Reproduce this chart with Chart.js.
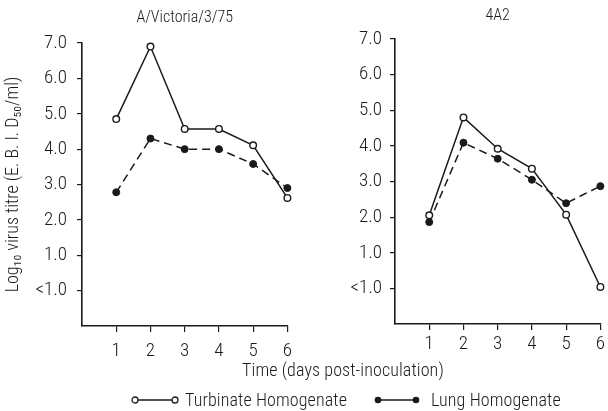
<!DOCTYPE html>
<html>
<head>
<meta charset="utf-8">
<script src="https://cdn.jsdelivr.net/npm/chart.js@4/dist/chart.umd.min.js"></script>
<style>
  html, body { margin: 0; padding: 0; background: #fff; }
  #wrap { position: relative; width: 608px; height: 411px; overflow: hidden; background: #fff;
          font-family: 'Roboto Condensed', 'Liberation Sans', sans-serif; font-weight: 300; color: #1a1a1a; }
  .cv { position: absolute; top: 0; }
  #c1 { left: 0; }
  #c2 { left: 300px; }
  #xtitle { position: absolute; left: 242px; top: 360px; font-size: 18px; line-height: 20px; white-space: nowrap; letter-spacing: 0.1px; }
  .leg { position: absolute; top: 389px; font-size: 18px; line-height: 22px; white-space: nowrap; display: flex; align-items: center; letter-spacing: 0.1px; }
  .leg svg { margin-right: 6px; }
</style>
</head>
<body>
<div id="wrap">
  <div class="cv" id="c1"><canvas id="chart1" width="300" height="362"></canvas></div>
  <div class="cv" id="c2"><canvas id="chart2" width="308" height="362"></canvas></div>
  <div id="xtitle">Time (days post-inoculation)</div>
  <div class="leg" style="left:131px;">
    <svg width="48" height="10"><line x1="4" y1="5" x2="44" y2="5" stroke="#1a1a1a" stroke-width="1.3"/><circle cx="4" cy="5" r="3" fill="#fff" stroke="#1a1a1a" stroke-width="1.3"/><circle cx="44" cy="5" r="3" fill="#fff" stroke="#1a1a1a" stroke-width="1.3"/></svg>
    <span>Turbinate Homogenate</span>
  </div>
  <div class="leg" style="left:374px;">
    <svg width="46" height="10"><line x1="4" y1="5" x2="42" y2="5" stroke="#1a1a1a" stroke-width="1.3"/><circle cx="4" cy="5" r="3.3" fill="#1a1a1a"/><circle cx="42" cy="5" r="3.3" fill="#1a1a1a"/></svg>
    <span style="margin-left:5px">Lung Homogenate</span>
  </div>
</div>
<script>
// ---- data ----
const days = [1, 2, 3, 4, 5, 6];
const panelTitles = ['A/Victoria/3/75', '4A2'];
// values in log10 units; 0 denotes the "<1.0" level
const victoriaTurbinate = [4.85, 6.9, 4.57, 4.57, 4.11, 2.62];
const victoriaLung      = [2.78, 4.3, 4.0, 4.0, 3.58, 2.9];
const a42Turbinate      = [2.05, 4.8, 3.92, 3.36, 2.07, 0.04];
const a42Lung           = [1.86, 4.09, 3.64, 3.05, 2.39, 2.87];
const yTickValues = [0, 1, 2, 3, 4, 5, 6, 7];
const yTickLabels = ['<1.0', '1.0', '2.0', '3.0', '4.0', '5.0', '6.0', '7.0'];
const xTickLabels = ['1', '2', '3', '4', '5', '6'];
const yAxisTitle = 'Log\u2081\u2080 virus titre (E. B. I. D\u2085\u2080/ml)';
const seriesNames = ['Turbinate Homogenate', 'Lung Homogenate'];

const INK = '#1a1a1a';
Chart.defaults.font.family = "'Roboto Condensed', 'Liberation Sans', sans-serif";
Chart.defaults.font.weight = '300';
Chart.defaults.color = INK;

function pts(vals) { return days.map((d, i) => ({ x: d, y: vals[i] })); }

function makeChart(id, title, turb, lung, opts) {
  return new Chart(document.getElementById(id), {
    type: 'line',
    data: {
      datasets: [
        { label: seriesNames[0], data: pts(turb), borderColor: INK, borderWidth: 1.5,
          pointRadius: 3.3, pointBackgroundColor: '#fff', pointBorderColor: INK, pointBorderWidth: 1.4,
          tension: 0, clip: false },
        { label: seriesNames[1], data: pts(lung), borderColor: INK, borderWidth: 1.5, borderDash: [8, 5],
          pointRadius: 3.5, pointBackgroundColor: INK, pointBorderColor: INK, pointBorderWidth: 1,
          tension: 0, clip: false }
      ]
    },
    options: {
      responsive: false,
      animation: false,
      events: [],
      layout: { padding: { left: 0, right: opts.right, top: 0, bottom: 0 } },
      plugins: {
        legend: { display: false },
        tooltip: { enabled: false },
        title: { display: true, text: title, fullSize: false, color: INK,
                 font: { size: 16, weight: '300', lineHeight: 1.2 },
                 padding: { top: opts.tTop, bottom: opts.tBottom } }
      },
      scales: {
        x: {
          type: 'linear', min: 0, max: 6,
          afterBuildTicks: s => { s.ticks = days.map(d => ({ value: d })); },
          afterFit: s => { s.height = opts.xh; },
          ticks: { stepSize: 1, padding: opts.xpad, font: { size: 19, weight: '300' }, color: INK,
                   callback: (v) => xTickLabels[days.indexOf(v)] },
          grid: { display: true, drawOnChartArea: false, drawTicks: true, tickLength: 6, color: INK, lineWidth: 1.2 },
          border: { display: true, color: INK, width: 1.6 }
        },
        y: {
          type: 'linear', min: -1, max: 7,
          afterBuildTicks: s => { s.ticks = yTickValues.map(v => ({ value: v })); },
          afterFit: s => { s.width = opts.yw; },
          ticks: { padding: opts.ypad, font: { size: 19, weight: '300' }, color: INK,
                   callback: (v) => yTickLabels[yTickValues.indexOf(v)] },
          grid: { display: true, drawOnChartArea: false, drawTicks: true, tickLength: 5, color: INK, lineWidth: 1.2 },
          border: { display: true, color: INK, width: 1.6 },
          title: { display: opts.showYTitle, text: yAxisTitle, color: INK,
                   font: { size: 18, weight: '300', lineHeight: 1.2 }, padding: { top: 3, bottom: 0 } }
        }
      }
    }
  });
}

makeChart('chart1', panelTitles[0], victoriaTurbinate, victoriaLung,
  { right: 10, tTop: 8, tBottom: 15.8, xh: 36, xpad: 8, yw: 82, ypad: 10, showYTitle: true });
makeChart('chart2', panelTitles[1], a42Turbinate, a42Lung,
  { right: 3, tTop: 6, tBottom: 13.8, xh: 38, xpad: 3, yw: 95, ypad: 8, showYTitle: false });
</script>
</body>
</html>
